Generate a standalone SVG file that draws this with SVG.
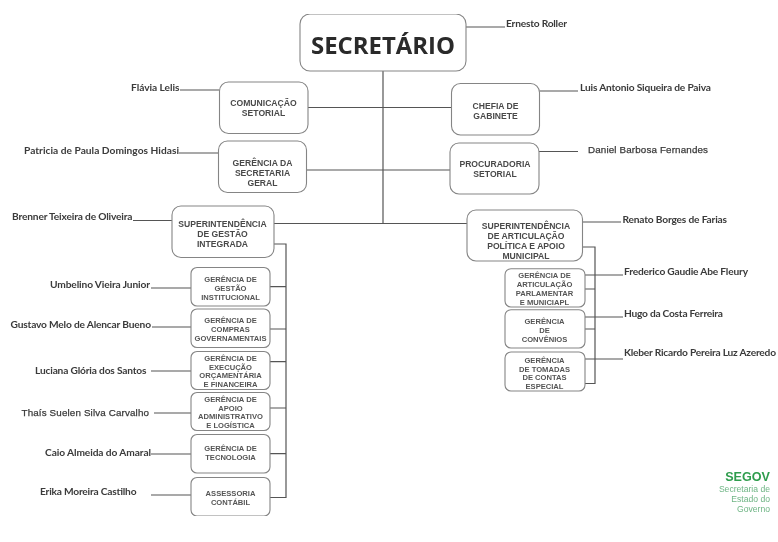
<svg xmlns="http://www.w3.org/2000/svg" width="778" height="542" viewBox="0 0 778 542">
<style>
.b{fill:#fff;stroke:#858585;stroke-width:1.1}
.c{fill:none;stroke:#555;stroke-width:1.2}
text{font-family:"Liberation Sans",Arial,sans-serif}
.l{font-size:8.6px;font-weight:700;fill:#4a4a4a;text-anchor:middle}
.s{font-size:7.6px;font-weight:700;fill:#555;text-anchor:middle}
.n{font-family:Lato,"Liberation Sans",sans-serif;font-size:10.2px;font-weight:700;fill:#3a3a3a}
.e{text-anchor:end}
.a{font-family:"Liberation Sans",Arial,sans-serif;font-size:9.8px;font-weight:400;stroke:#3a3a3a;stroke-width:.25}
.g{font-size:8.6px;fill:#6fb585;text-anchor:end}
</style>
<defs><filter id="soft" x="0" y="0" width="100%" height="100%"><feGaussianBlur stdDeviation="0.35"/></filter></defs>
<rect width="778" height="542" fill="#fff"/>
<g filter="url(#soft)">
<g id="connectors">
<path class="c" d="M383 71V223.5M308 107.5H451.5M306.5 170H450M274 223.5H467"/>
<path class="c" d="M274 244H286V497.5H270M270 286.7H286M270 329H286M270 361.7H286M270 408H286M270 453.7H286"/>
<path class="c" d="M582.5 247H595V383.5H585M585 289H595M585 329H595"/>
<path class="c" d="M180 90H219.5M179 153H218.5M133 220.5H172M151 288H191M152 327H191M151 371H191M154 413H191M151 454H191M151 495H191"/>
<path class="c" d="M466 27H505M539.5 91H578M539 151.5H578M582.5 222H621M585 275H623M585 317H623M585 359H623"/>
</g>
<g id="secretario"><rect class="b" x="300" y="14" width="166" height="57" rx="10"/><text x="383" y="53.5" text-anchor="middle" font-size="24" font-weight="700" fill="#2b2b2b" textLength="144" lengthAdjust="spacingAndGlyphs" style="font-family:'Open Sans','Liberation Sans',sans-serif">SECRETÁRIO</text></g>
<g id="comunicacao"><rect class="b" x="219.5" y="82" width="88.5" height="51.5" rx="9"/><text class="l" x="263.5" y="105.5">COMUNICAÇÃO</text><text class="l" x="263.5" y="115.5">SETORIAL</text></g>
<g id="gerencia-sg"><rect class="b" x="218.5" y="141" width="88" height="51.5" rx="9"/><text class="l" x="262.5" y="166">GERÊNCIA DA</text><text class="l" x="262.5" y="176">SECRETARIA</text><text class="l" x="262.5" y="186">GERAL</text></g>
<g id="sup-gestao"><rect class="b" x="172" y="206" width="102" height="51.5" rx="9"/><text class="l" x="222.5" y="226.5">SUPERINTENDÊNCIA</text><text class="l" x="222.5" y="236.5">DE GESTÃO</text><text class="l" x="222.5" y="246.5">INTEGRADA</text></g>
<g id="chefia"><rect class="b" x="451.5" y="83.5" width="88" height="51.5" rx="9"/><text class="l" x="495.5" y="108.7">CHEFIA DE</text><text class="l" x="495.5" y="118.7">GABINETE</text></g>
<g id="procuradoria"><rect class="b" x="450" y="143" width="89" height="51" rx="9"/><text class="l" x="495" y="166.5">PROCURADORIA</text><text class="l" x="495" y="176.5">SETORIAL</text></g>
<g id="sup-articulacao"><rect class="b" x="467" y="210" width="115.5" height="51" rx="9"/><text class="l" x="526" y="228.7">SUPERINTENDÊNCIA</text><text class="l" x="526" y="238.7">DE ARTICULAÇÃO</text><text class="l" x="526" y="248.7">POLÍTICA E APOIO</text><text class="l" x="526" y="258.7">MUNICIPAL</text></g>
<g id="g-institucional"><rect class="b" x="191" y="267.5" width="79" height="38.5" rx="6"/><text class="s" x="230.5" y="282">GERÊNCIA DE</text><text class="s" x="230.5" y="290.8">GESTÃO</text><text class="s" x="230.5" y="299.6">INSTITUCIONAL</text></g>
<g id="g-compras"><rect class="b" x="191" y="309" width="79" height="38.5" rx="6"/><text class="s" x="230.5" y="323.3">GERÊNCIA DE</text><text class="s" x="230.5" y="332.1">COMPRAS</text><text class="s" x="230.5" y="340.9">GOVERNAMENTAIS</text></g>
<g id="g-execucao"><rect class="b" x="191" y="351.5" width="79" height="38" rx="6"/><text class="s" x="230.5" y="360.7">GERÊNCIA DE</text><text class="s" x="230.5" y="369.5">EXECUÇÃO</text><text class="s" x="230.5" y="378.3">ORÇAMENTÁRIA</text><text class="s" x="230.5" y="387.1">E FINANCEIRA</text></g>
<g id="g-apoio"><rect class="b" x="191" y="392.5" width="79" height="38" rx="6"/><text class="s" x="230.5" y="401.7">GERÊNCIA DE</text><text class="s" x="230.5" y="410.5">APOIO</text><text class="s" x="230.5" y="419.3">ADMINISTRATIVO</text><text class="s" x="230.5" y="428.1">E LOGÍSTICA</text></g>
<g id="g-tecnologia"><rect class="b" x="191" y="434.5" width="79" height="38.5" rx="6"/><text class="s" x="230.5" y="451">GERÊNCIA DE</text><text class="s" x="230.5" y="460">TECNOLOGIA</text></g>
<g id="assessoria"><rect class="b" x="191" y="477.5" width="79" height="38.5" rx="6"/><text class="s" x="230.5" y="495.7">ASSESSORIA</text><text class="s" x="230.5" y="505">CONTÁBIL</text></g>
<g id="g-parlamentar"><rect class="b" x="505" y="268.7" width="80" height="38.3" rx="6"/><text class="s" x="544.5" y="278.3">GERÊNCIA DE</text><text class="s" x="544.5" y="287.1">ARTICULAÇÃO</text><text class="s" x="544.5" y="295.9">PARLAMENTAR</text><text class="s" x="544.5" y="304.7">E MUNICIAPL</text></g>
<g id="g-convenios"><rect class="b" x="505" y="309.7" width="80" height="38.3" rx="6"/><text class="s" x="544.5" y="324">GERÊNCIA</text><text class="s" x="544.5" y="333">DE</text><text class="s" x="544.5" y="342">CONVÊNIOS</text></g>
<g id="g-tomadas"><rect class="b" x="505" y="352" width="80" height="39" rx="6"/><text class="s" x="544.5" y="362.7">GERÊNCIA</text><text class="s" x="544.5" y="371.5">DE TOMADAS</text><text class="s" x="544.5" y="380.3">DE CONTAS</text><text class="s" x="544.5" y="389.1">ESPECIAL</text></g>
<g id="nomes">
<text class="n e" x="179.5" y="91" textLength="48.5">Flávia Lelis</text>
<text class="n e" x="179" y="153.5" textLength="155">Patricia de Paula Domingos Hidasi</text>
<text class="n e" x="132.5" y="220" textLength="120.5">Brenner Teixeira de Oliveira</text>
<text class="n e" x="150" y="287.5" textLength="100">Umbelino Vieira Junior</text>
<text class="n e" x="151" y="328" textLength="140.5">Gustavo Melo de Alencar Bueno</text>
<text class="n e" x="146.5" y="374" textLength="111.5">Luciana Glória dos Santos</text>
<text class="n e a" x="149" y="415.7" textLength="127.5">Thaís Suelen Silva Carvalho</text>
<text class="n e" x="151" y="455.7" textLength="106">Caio Almeida do Amaral</text>
<text class="n e" x="136.5" y="494.7" textLength="96.5">Erika Moreira Castilho</text>
<text class="n" x="506" y="27" textLength="61">Ernesto Roller</text>
<text class="n" x="580" y="91" textLength="131">Luis Antonio Siqueira de Paiva</text>
<text class="n a" x="588" y="153" textLength="120">Daniel Barbosa Fernandes</text>
<text class="n" x="622.5" y="223" textLength="104.5">Renato Borges de Farias</text>
<text class="n" x="624" y="275" textLength="124">Frederico Gaudie Abe Fleury</text>
<text class="n" x="624" y="317" textLength="99">Hugo da Costa Ferreira</text>
<text class="n" x="624" y="356" textLength="152">Kleber Ricardo Pereira Luz Azeredo</text>
</g>
<g id="segov">
<text x="770" y="481.2" text-anchor="end" font-size="12.6" font-weight="700" fill="#2f9d4d">SEGOV</text>
<text class="g" x="770" y="492.2">Secretaria de</text>
<text class="g" x="770" y="502.2">Estado do</text>
<text class="g" x="770" y="512.2">Governo</text>
</g>
</g>
</svg>
